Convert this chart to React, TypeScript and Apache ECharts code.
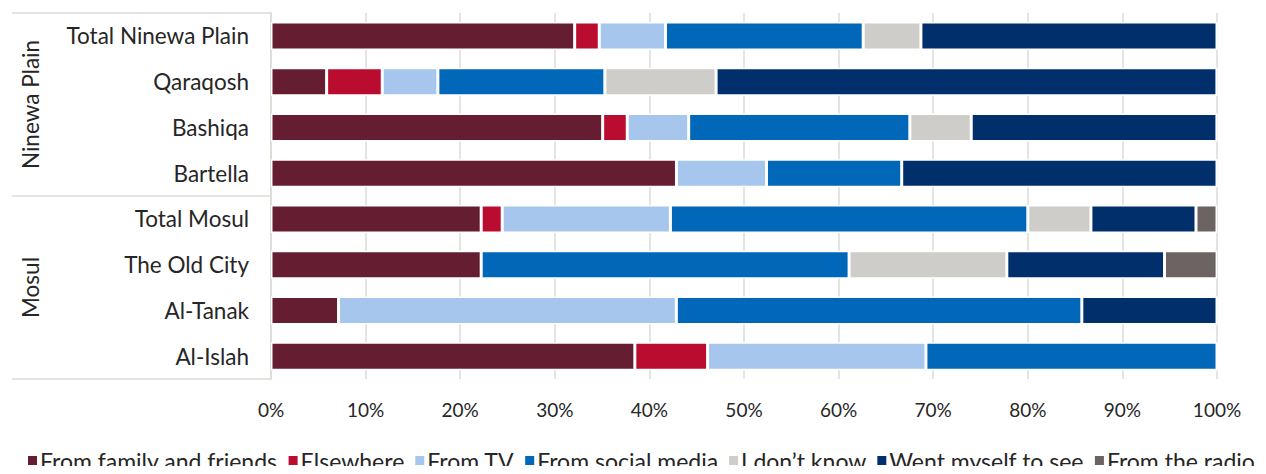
import React, { useEffect, useRef } from "react";
import * as echarts from "echarts";

const categories = [
  "Total Ninewa Plain",
  "Qaraqosh",
  "Bashiqa",
  "Bartella",
  "Total Mosul",
  "The Old City",
  "Al-Tanak",
  "Al-Islah",
];

const seriesNames = [
  "From family and friends",
  "Elsewhere",
  "From TV",
  "From social media",
  "I don\u2019t know",
  "Went myself to see",
  "From the radio",
];

const familyFriends = [32.1, 5.88, 35.06, 42.86, 22.22, 22.22, 7.14, 38.46];
const elsewhere = [2.6, 5.88, 2.6, 0, 2.22, 0, 0, 7.69];
const fromTV = [7.0, 5.88, 6.49, 9.52, 17.78, 0, 35.71, 23.08];
const socialMedia = [20.9, 17.65, 23.38, 14.29, 37.78, 38.89, 42.86, 30.77];
const dontKnow = [6.1, 11.76, 6.49, 0, 6.67, 16.67, 0, 0];
const wentMyself = [31.3, 52.94, 25.97, 33.33, 11.11, 16.67, 14.29, 0];
const fromRadio = [0, 0, 0, 0, 2.22, 5.56, 0, 0];

const xTicks = [0, 10, 20, 30, 40, 50, 60, 70, 80, 90, 100];

const colors = ["#651D32", "#BA0C2F", "#A7C6ED", "#0067B9", "#CFCDC9", "#002F6C", "#6C6463"];

const groups = [
  { name: "Ninewa Plain", y: 104.5 },
  { name: "Mosul", y: 287.5 },
];

export default function App() {
  const ref = useRef<HTMLDivElement>(null);
  useEffect(() => {
    if (!ref.current) return;
    const chart = echarts.init(ref.current, undefined, { renderer: "svg" });
    const allData = [familyFriends, elsewhere, fromTV, socialMedia, dontKnow, wentMyself, fromRadio];
    const font = "Lato, 'Open Sans', sans-serif";
    const lineColor = "#D9DCD6";
    const textColor = "#262626";
    chart.setOption({
      animation: false,
      textStyle: { fontFamily: font },
      grid: { left: 271, right: 49, top: 13, bottom: 95, containLabel: false },
      xAxis: {
        type: "value",
        min: 0,
        max: 100,
        interval: 10,
        axisLine: { show: false },
        axisTick: { show: false },
        splitLine: { show: true, lineStyle: { color: lineColor, width: 1.5 } },
        axisLabel: {
          formatter: (v: number) => (xTicks.includes(v) ? v + "%" : ""),
          fontSize: 19,
          color: textColor,
          margin: 21,
          fontFamily: font,
        },
      },
      yAxis: {
        type: "category",
        data: categories,
        inverse: true,
        axisLine: { show: true, lineStyle: { color: lineColor, width: 1.5 } },
        axisTick: { show: false },
        axisLabel: { fontSize: 22.5, color: textColor, margin: 22, fontFamily: font },
      },
      legend: {
        data: seriesNames,
        left: 26,
        top: 449,
        padding: 0,
        icon: "rect",
        itemWidth: 11,
        itemHeight: 11,
        itemGap: 9,
        textStyle: { fontSize: 23, color: textColor, fontFamily: font, padding: [0, 0, 0, -3] },
      },
      series: seriesNames.map((name, i) => ({
        name,
        type: "bar",
        stack: "total",
        barWidth: 28,
        data: allData[i],
        itemStyle: { color: colors[i], borderColor: "#ffffff", borderWidth: 1.5 },
      })),
      graphic: [
        { type: "line", shape: { x1: 12, y1: 13, x2: 271, y2: 13 }, style: { stroke: lineColor, lineWidth: 1.5 } },
        { type: "line", shape: { x1: 12, y1: 196, x2: 271, y2: 196 }, style: { stroke: lineColor, lineWidth: 1.5 } },
        { type: "line", shape: { x1: 12, y1: 379, x2: 271, y2: 379 }, style: { stroke: lineColor, lineWidth: 1.5 } },
        ...groups.map((g) => ({
          type: "text",
          x: 30,
          y: g.y,
          rotation: Math.PI / 2,
          style: {
            text: g.name,
            fontSize: 22.5,
            fontFamily: font,
            fill: textColor,
            textAlign: "center",
            textVerticalAlign: "middle",
          },
        })),
      ],
    });
    return () => chart.dispose();
  }, []);
  return <div ref={ref} style={{ width: 1266, height: 474, margin: -8 }} />;
}
